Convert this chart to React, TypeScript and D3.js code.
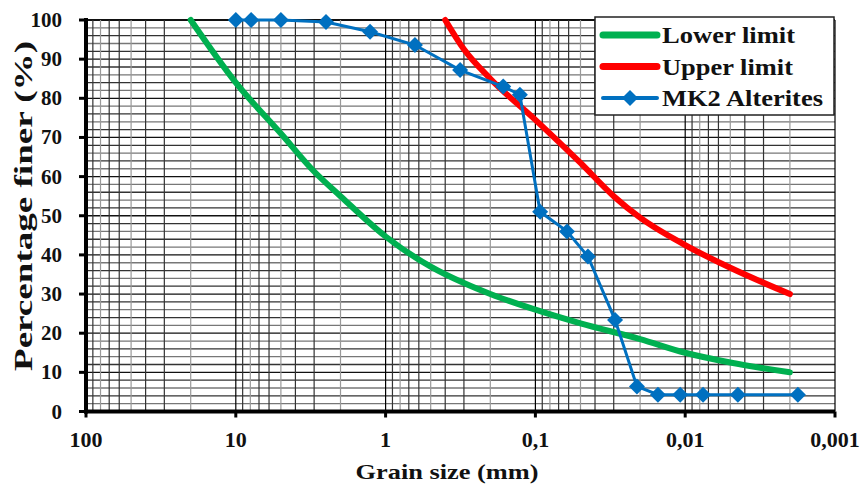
import React from "react";
import * as d3 from "d3";

// grain size (mm) and % finer
const lowerSize = [20, 10, 5, 3, 2, 1, 0.5, 0.3, 0.2, 0.1, 0.05, 0.02, 0.01, 0.005, 0.002];
const lowerPct = [100, 84, 71, 61.3, 55, 44.7, 37, 32.8, 30, 26, 22.5, 18.5, 15, 12.5, 10];

const upperSize = [0.4, 0.3, 0.2, 0.1, 0.05, 0.03, 0.02, 0.01, 0.005, 0.002];
const upperPct = [100, 92.5, 85, 74.5, 63.5, 55, 49.5, 42.5, 36.7, 30];

const mk2Size = [10, 7.9, 5, 2.5, 1.27, 0.637, 0.318, 0.164, 0.127, 0.093, 0.0615, 0.0446, 0.0294, 0.021, 0.0152, 0.0108, 0.0076, 0.00445, 0.00177];
const mk2Pct = [100, 100, 100, 99.5, 97, 93.6, 87.2, 83, 80.9, 51, 46, 39.6, 23.4, 6.4, 4.3, 4.3, 4.3, 4.3, 4.3];

const xTicks = [100, 10, 1, 0.1, 0.01, 0.001];
const xTickLabels = ["100", "10", "1", "0,1", "0,01", "0,001"];
const yTicks = [0, 10, 20, 30, 40, 50, 60, 70, 80, 90, 100];

const legendItems = [
  { label: "Lower limit", color: "#00b050", marker: false, width: 6, len: 133 },
  { label: "Upper limit", color: "#ff0000", marker: false, width: 6, len: 131 },
  { label: "MK2 Alterites", color: "#0070c0", marker: true, width: 3, len: 161 },
];

const FONT = "'Liberation Serif', 'Times New Roman', serif";

export default function App() {
  const width = 864;
  const height = 488;
  const x = d3.scaleLog().domain([100, 0.001]).range([86, 835]);
  const y = d3.scaleLinear().domain([0, 100]).range([411.5, 20]);

  const toPts = (s: number[], p: number[]) => s.map((v, i) => [v, p[i]] as [number, number]);
  const smooth = d3
    .line<[number, number]>()
    .x((d) => x(d[0]))
    .y((d) => y(d[1]))
    .curve(d3.curveMonotoneX);
  const straight = d3
    .line<[number, number]>()
    .x((d) => x(d[0]))
    .y((d) => y(d[1]));

  // minor log grid: 1..9 in every decade
  const vLines: { v: number; major: boolean }[] = [];
  for (let e = -3; e < 2; e++) {
    for (let m = 1; m <= 9; m++) vLines.push({ v: m * Math.pow(10, e), major: m === 1 });
  }
  vLines.push({ v: 100, major: true });
  const hLines = d3.range(0, 101, 2);

  const diamond = (cx: number, cy: number, r: number) =>
    `M${cx},${cy - r}L${cx + r},${cy}L${cx},${cy + r}L${cx - r},${cy}Z`;

  return (
    <svg width={width} height={height} style={{ position: "absolute", left: 0, top: 0, background: "#fff" }}>
      {/* grid */}
      <g>
        {hLines.map((v) => (
          <line
            key={"h" + v}
            x1={x(100)}
            x2={x(0.001)}
            y1={y(v)}
            y2={y(v)}
            stroke={v % 10 === 0 ? "#111" : v % 4 === 0 ? "#333" : "#777"}
            strokeWidth={v === 100 ? 2 : 1.3}
          />
        ))}
        {vLines.map((d, i) => (
          <line
            key={"v" + i}
            x1={x(d.v)}
            x2={x(d.v)}
            y1={y(100)}
            y2={y(0)}
            stroke={d.major ? "#000" : i % 3 === 1 ? "#999" : "#333"}
            strokeWidth={1.2}
          />
        ))}
      </g>

      {/* curves */}
      <path d={smooth(toPts(lowerSize, lowerPct)) || ""} fill="none" stroke="#00b050" strokeWidth={6} strokeLinecap="round" />
      <path d={smooth(toPts(upperSize, upperPct)) || ""} fill="none" stroke="#ff0000" strokeWidth={6} strokeLinecap="round" />
      <path d={straight(toPts(mk2Size, mk2Pct)) || ""} fill="none" stroke="#0070c0" strokeWidth={3} />
      {mk2Size.map((s, i) => (
        <path key={"m" + i} d={diamond(x(s), y(mk2Pct[i]), 8)} fill="#0070c0" />
      ))}

      {/* axes */}
      <line x1={x(100)} x2={x(100)} y1={y(100) - 2} y2={y(0) + 2} stroke="#000" strokeWidth={4} />
      <line x1={x(100) - 2} x2={x(0.001)} y1={y(0)} y2={y(0)} stroke="#000" strokeWidth={4} />
      {yTicks.map((t) => (
        <g key={"yt" + t}>
          <line x1={x(100) - 7} x2={x(100)} y1={y(t)} y2={y(t)} stroke="#000" strokeWidth={3} />
          <text
            x={62}
            y={y(t) + 7}
            textAnchor="end"
            fontFamily={FONT}
            fontWeight="bold"
            fontSize={21}
            fill="#111"
          >
            {t}
          </text>
        </g>
      ))}
      {xTicks.map((t, i) => (
        <g key={"xt" + t}>
          <line x1={x(t)} x2={x(t)} y1={y(0)} y2={y(0) + 6} stroke="#000" strokeWidth={3} />
          <text
            x={x(t)}
            y={447}
            textAnchor="middle"
            fontFamily={FONT}
            fontWeight="bold"
            fontSize={22}
            fill="#111"
          >
            {xTickLabels[i]}
          </text>
        </g>
      ))}

      <text
        x={447}
        y={479}
        textAnchor="middle"
        fontFamily={FONT}
        fontWeight="bold"
        fontSize={22}
        textLength={183}
        lengthAdjust="spacingAndGlyphs"
        fill="#111"
      >
        Grain size (mm)
      </text>
      <text
        transform="translate(32,206) rotate(-90)"
        textAnchor="middle"
        fontFamily={FONT}
        fontWeight="bold"
        fontSize={26}
        textLength={330}
        lengthAdjust="spacingAndGlyphs"
        fill="#111"
      >
        Percentage finer (%)
      </text>

      {/* legend */}
      <rect x={595} y={17} width={239} height={98} fill="#fff" stroke="#222" strokeWidth={1.5} />
      {legendItems.map((it, i) => {
        const ly = 35 + i * 31.5;
        return (
          <g key={it.label}>
            <line x1={603} x2={657} y1={ly} y2={ly} stroke={it.color} strokeWidth={it.width + 1} strokeLinecap="round" />
            {it.marker && <path d={diamond(630, ly, 8)} fill={it.color} />}
            <text
              x={662}
              y={ly + 8}
              fontFamily={FONT}
              fontWeight="bold"
              fontSize={23}
              textLength={it.len}
              lengthAdjust="spacingAndGlyphs"
              fill="#111"
            >
              {it.label}
            </text>
          </g>
        );
      })}
    </svg>
  );
}
